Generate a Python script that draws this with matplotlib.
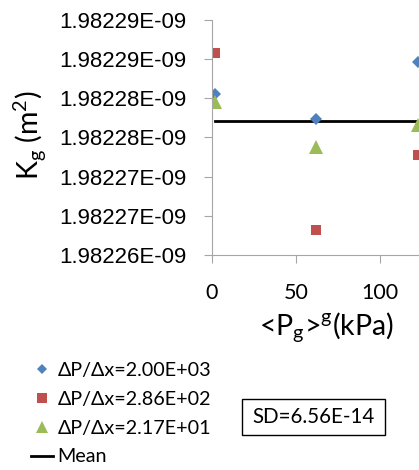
import matplotlib
matplotlib.use('Agg')
from matplotlib import pyplot as plt
from matplotlib.lines import Line2D
from matplotlib.patches import Rectangle

# <Pg>^g in kPa, Kg in m^2
p_g = [2, 62, 122.6]
kg_dp2000 = [1.98228056e-9, 1.98227730e-9, 1.98228460e-9]
kg_dp286 = [1.98228570e-9, 1.98226320e-9, 1.98227270e-9]
kg_dp217 = [1.98227950e-9, 1.98227380e-9, 1.98227650e-9]
kg_mean = 1.98227710e-9
mean_x = [2, 140]

y_ticks = [1.98226e-9, 1.982265e-9, 1.98227e-9, 1.982275e-9,
           1.98228e-9, 1.982285e-9, 1.98229e-9]
y_tick_labels = ['1.98226E-09', '1.98227E-09', '1.98227E-09', '1.98228E-09',
                 '1.98228E-09', '1.98229E-09', '1.98229E-09']
x_ticks = [0, 50, 100]

calibri = ['Lato', 'DejaVu Sans']
arial = ['Liberation Sans', 'DejaVu Sans']
plt.rcParams['mathtext.fontset'] = 'custom'
plt.rcParams['mathtext.rm'] = 'Lato'

W, H = 419, 470
fig = plt.figure(figsize=(W / 100, H / 100), dpi=100)
ax = fig.add_axes([212 / W, (H - 255) / H, (W - 212) / W, (255 - 19.5) / H])

ax.plot(mean_x, [kg_mean, kg_mean], '-', color='black', lw=2)
ax.plot(p_g, kg_dp2000, 'D', color='#4f81bd', ms=6.5, mew=0)
ax.plot(p_g, kg_dp286, 's', color='#c0504d', ms=7.5, mew=0)
ax.plot(p_g, kg_dp217, '^', color='#9bbb59', ms=9.5, mew=0)

ax.set_xlim(0, 123.2)
ax.set_ylim(1.98226e-9, 1.98229e-9)
ax.set_yticks(y_ticks)
ax.set_yticklabels(y_tick_labels, family=arial, fontsize=16)
ax.set_xticks(x_ticks)
ax.set_xticklabels([str(v) for v in x_ticks], family=calibri, fontsize=15.5)

for s in ['top', 'right']:
    ax.spines[s].set_visible(False)
for s in ['left', 'bottom']:
    ax.spines[s].set_color('#a6a6a6')
ax.tick_params(axis='y', direction='out', length=6, color='#a6a6a6', pad=12.5)
ax.tick_params(axis='x', direction='out', length=6, color='#a6a6a6', pad=14)

fig.text(326 / W, 1 - 328 / H, r'<P$_\mathregular{g}$>$^\mathregular{g}$(kPa)',
         family=calibri, fontsize=20.5, ha='center', va='center')
fig.text(30 / W, 1 - 135 / H, r'K$_\mathregular{g}$ (m$^\mathregular{2}$)',
         family=calibri, fontsize=20.5, ha='center', va='center', rotation=90)

handles = [
    Line2D([], [], ls='none', marker='D', color='#4f81bd', ms=5.5, mew=0),
    Line2D([], [], ls='none', marker='s', color='#c0504d', ms=6.5, mew=0),
    Line2D([], [], ls='none', marker='^', color='#9bbb59', ms=8, mew=0),
    Line2D([], [], color='black', lw=2),
]
labels = ['ΔP/Δx=2.00E+03', 'ΔP/Δx=2.86E+02', 'ΔP/Δx=2.17E+01', 'Mean']
fig.legend(handles, labels, loc='upper left', bbox_to_anchor=(31 / W, 1 - 362 / H),
           frameon=False, prop={'family': calibri, 'size': 14.2},
           handlelength=1.1, handletextpad=0.25, labelspacing=0.6,
           borderpad=0, borderaxespad=0)

fig.patches.append(Rectangle((242 / W, 1 - 435 / H), 143 / W, 36 / H,
                             transform=fig.transFigure, fc='white', ec='black', lw=1))
fig.text(313.5 / W, 1 - 417 / H, 'SD=6.56E-14', family=calibri, fontsize=14.8,
         ha='center', va='center')

fig.savefig('out.png', dpi=100)
